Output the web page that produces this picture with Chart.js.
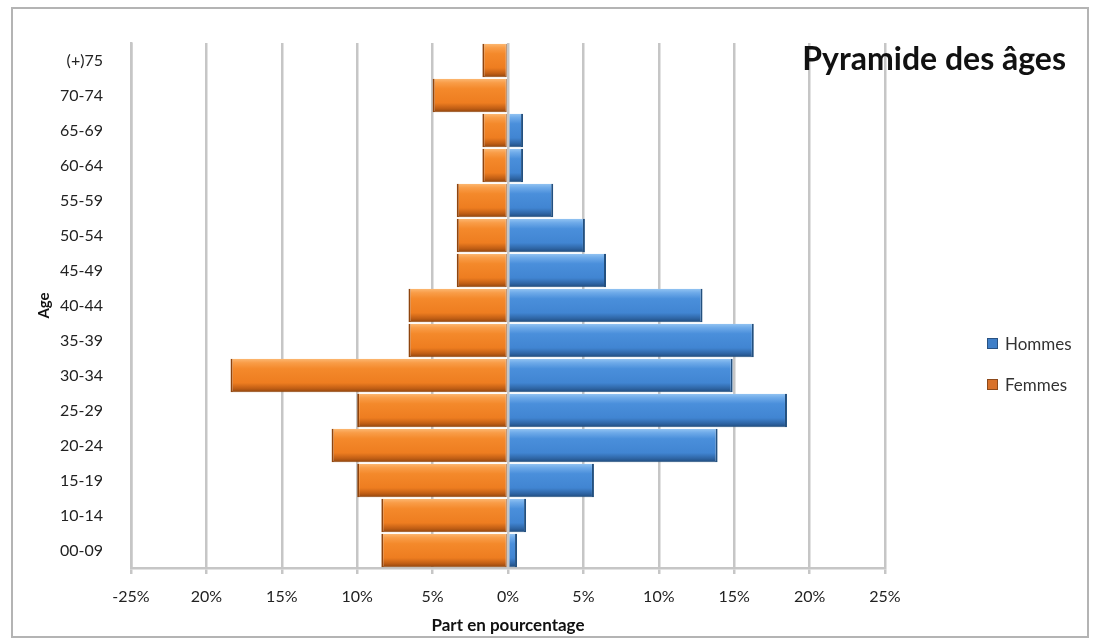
<!DOCTYPE html>
<html lang="fr">
<head>
<meta charset="utf-8">
<title>Pyramide des âges</title>
<script src="https://cdn.jsdelivr.net/npm/chart.js@4.4.1/dist/chart.umd.min.js"></script>
<style>
    html, body { margin: 0; padding: 0; background: #fff; }
    #wrap { position: relative; width: 1096px; height: 641px; overflow: hidden; }
    #frame {
        position: absolute; left: 11px; top: 7px; width: 1074px; height: 627px;
        border: 2px solid #b4b4b4; box-sizing: content-box;
    }
    #pyramid { position: absolute; left: 0; top: 0; }
    #chartTitle {
        position: absolute; right: 30px; top: 38px;
        font: bold 32px Lato, "Liberation Sans", sans-serif; color: #111;
    }
    #legend {
        position: absolute; left: 987px; top: 331px; margin: 0; padding: 0; list-style: none;
        font: 17px Lato, "Liberation Sans", sans-serif; color: #333;
    }
    #legend li { display: flex; align-items: center; height: 24px; margin-bottom: 17px; }
    #legend span.box { width: 11px; height: 11px; margin-right: 7px; border: 1px solid rgba(0,0,0,0.35); box-sizing: border-box; }
</style>
</head>
<body>
<div id="wrap">
    <div id="frame"></div>
    <canvas id="pyramid" width="1096" height="641"></canvas>
    <div id="chartTitle">Pyramide des âges</div>
    <ul id="legend"></ul>
</div>
<script>
(function () {
    'use strict';

    // Age groups, top row first
    const CATEGORIES = [
        '(+)75', '70-74', '65-69', '60-64', '55-59', '50-54', '45-49',
        '40-44', '35-39', '30-34', '25-29', '20-24', '15-19', '10-14', '00-09'
    ];

    // Share of each sex per age group (%)
    const HOMMES = [0, 0, 1.0, 1.0, 3.0, 5.1, 6.5, 12.9, 16.3, 14.9, 18.5, 13.9, 5.7, 1.2, 0.6];
    const FEMMES = [1.7, 5.0, 1.7, 1.7, 3.4, 3.4, 3.4, 6.6, 6.6, 18.4, 10.0, 11.7, 10.0, 8.4, 8.4];

    // Excel's custom format only kept the sign on the first label
    const X_TICK_LABELS = ['-25%', '20%', '15%', '10%', '5%', '0%', '5%', '10%', '15%', '20%', '25%'];

    const BLUE_STOPS = ['#93c4f2', '#6eaae9', '#4a8fdb', '#4185d2', '#2f66a6', '#1f4a7c'];
    const ORANGE_STOPS = ['#fcb872', '#f99d48', '#f4892b', '#ee7d20', '#c25f15', '#8f440d'];
    const GRID = '#c6c6c6';
    const FONT = 'Lato, "Liberation Sans", sans-serif';
    const BAR_PCT = 0.96;

    // Bevel look: a vertical gradient laid over each bar row
    function barFill(c, stops) {
        const chart = c.chart;
        const y = chart.scales && chart.scales.y;
        if (!y || c.type !== 'data' || !chart.chartArea) return stops[2];
        const mid = y.getPixelForValue(c.dataIndex);
        const half = (y.height / CATEGORIES.length) * BAR_PCT / 2;
        const g = chart.ctx.createLinearGradient(0, mid - half, 0, mid + half);
        g.addColorStop(0, stops[0]);
        g.addColorStop(0.12, stops[1]);
        g.addColorStop(0.3, stops[2]);
        g.addColorStop(0.72, stops[3]);
        g.addColorStop(0.88, stops[4]);
        g.addColorStop(1, stops[5]);
        return g;
    }

    const htmlLegend = {
        id: 'htmlLegend',
        afterUpdate(chart) {
            const ul = document.getElementById('legend');
            ul.replaceChildren();
            chart.data.datasets.forEach(ds => {
                const li = document.createElement('li');
                const box = document.createElement('span');
                box.className = 'box';
                box.style.background = ds.legendColor;
                li.appendChild(box);
                li.appendChild(document.createTextNode(ds.label));
                ul.appendChild(li);
            });
        }
    };

    new Chart(document.getElementById('pyramid'), {
        type: 'bar',
        data: {
            labels: CATEGORIES,
            datasets: [
                {
                    label: 'Hommes',
                    data: HOMMES,
                    legendColor: '#3f7fc8',
                    backgroundColor: c => barFill(c, BLUE_STOPS),
                    borderColor: '#23507f',
                    borderWidth: { top: 0, bottom: 1, left: 0, right: 2 },
                    borderSkipped: false
                },
                {
                    label: 'Femmes',
                    data: FEMMES.map(v => -v),
                    legendColor: '#d8712a',
                    backgroundColor: c => barFill(c, ORANGE_STOPS),
                    borderColor: '#8f440d',
                    borderWidth: { top: 0, bottom: 1, left: 2, right: 1 },
                    borderSkipped: false
                }
            ]
        },
        options: {
            indexAxis: 'y',
            responsive: false,
            animation: false,
            barPercentage: BAR_PCT,
            categoryPercentage: 1,
            layout: { padding: { left: 28, top: 43, right: 211, bottom: 5 } },
            scales: {
                x: {
                    stacked: true,
                    min: -25,
                    max: 25,
                    afterFit: scale => { scale.height = 68; },
                    ticks: {
                        stepSize: 5,
                        padding: 13,
                        color: '#222',
                        font: { family: FONT, size: 16 },
                        callback: (v, i) => X_TICK_LABELS[i]
                    },
                    grid: { color: GRID, lineWidth: 2.5, tickLength: 6 },
                    border: { color: GRID, width: 2.5 },
                    title: {
                        display: true,
                        text: 'Part en pourcentage',
                        color: '#111',
                        font: { family: FONT, size: 17, weight: 'bold' },
                        padding: { top: 0, bottom: 0 }
                    }
                },
                y: {
                    stacked: true,
                    afterFit: scale => { scale.width = 103; },
                    ticks: {
                        padding: 28,
                        color: '#222',
                        font: { family: FONT, size: 16 }
                    },
                    grid: { display: false, drawTicks: false },
                    border: { color: GRID, width: 2.5 },
                    title: {
                        display: true,
                        text: 'Age',
                        color: '#111',
                        font: { family: FONT, size: 15, weight: 'bold' },
                        padding: { top: 7, bottom: 0 }
                    }
                }
            },
            plugins: {
                legend: { display: false },
                tooltip: { enabled: false }
            }
        },
        plugins: [htmlLegend]
    });
})();
</script>
</body>
</html>
